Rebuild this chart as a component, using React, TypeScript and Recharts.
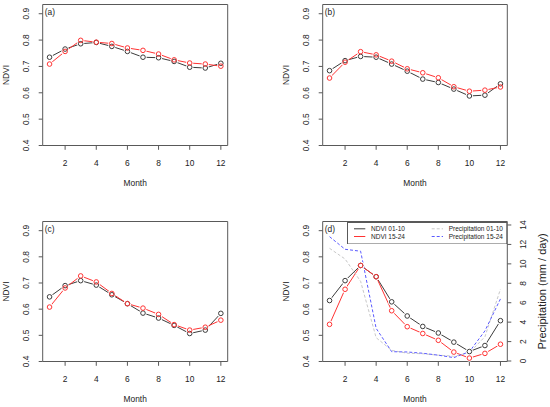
import { Label, Legend, Line, LineChart, XAxis, YAxis } from "recharts";

// monthly means
const MONTHS = [1, 2, 3, 4, 5, 6, 7, 8, 9, 10, 11, 12];

const NDVI_A_0110 = [0.735, 0.766, 0.786, 0.791, 0.776, 0.757, 0.735, 0.733, 0.719, 0.697, 0.694, 0.712];
const NDVI_A_1524 = [0.709, 0.757, 0.799, 0.792, 0.787, 0.77, 0.761, 0.747, 0.725, 0.713, 0.709, 0.701];
const NDVI_B_0110 = [0.684, 0.722, 0.738, 0.735, 0.709, 0.682, 0.652, 0.639, 0.614, 0.588, 0.591, 0.634];
const NDVI_B_1524 = [0.656, 0.716, 0.756, 0.744, 0.72, 0.691, 0.676, 0.657, 0.623, 0.606, 0.61, 0.622];
const NDVI_C_0110 = [0.647, 0.69, 0.709, 0.692, 0.655, 0.621, 0.585, 0.566, 0.538, 0.507, 0.52, 0.584];
const NDVI_C_1524 = [0.608, 0.681, 0.727, 0.704, 0.66, 0.621, 0.604, 0.58, 0.541, 0.52, 0.531, 0.558];
const NDVI_D_0110 = [0.633, 0.709, 0.767, 0.724, 0.628, 0.574, 0.534, 0.509, 0.474, 0.438, 0.461, 0.556];
const NDVI_D_1524 = [0.542, 0.676, 0.767, 0.724, 0.594, 0.533, 0.507, 0.481, 0.436, 0.413, 0.431, 0.466];

const PRECIP_0110 = [11.6, 10.5, 8.2, 2.4, 1.1, 0.8, 0.75, 0.6, 0.5, 0.85, 2.5, 7.4];
const PRECIP_1524 = [12.8, 11.5, 11.3, 3.36, 0.96, 0.93, 0.8, 0.6, 0.35, 0.96, 3.1, 6.4];

const MONTH_TICKS = [2, 4, 6, 8, 10, 12];
const NDVI_TICKS = [0.4, 0.5, 0.6, 0.7, 0.8, 0.9];
const PRECIP_TICKS = [0, 2, 4, 6, 8, 10, 12, 14];

const MONTH_DOMAIN: [number, number] = [0.56, 12.44];
const NDVI_DOMAIN: [number, number] = [0.4, 0.935];

const BLACK = "#3c3c3c";
const RED = "#ff3333";
const BLUE = "#5a5aff";
const GRAY = "#c8c8c8";
const AXIS = "#595959";
const TEXT = "#222";
const FS = 8.4;

const LEGEND = [
  { label: "NDVI 01-10", color: BLACK, dash: undefined },
  { label: "NDVI 15-24", color: RED, dash: undefined },
  { label: "Precipitation 01-10", color: GRAY, dash: "3 2" },
  { label: "Precipitation 15-24", color: BLUE, dash: "3 2" },
];

const rotatedTick = (fmt: (v: number) => string) => (props: any) => {
  const { x, y, payload } = props;
  return (
    <text
      x={x}
      y={y}
      transform={`rotate(-90 ${x} ${y})`}
      textAnchor="middle"
      dy="0.35em"
      fontSize={FS}
      fill={TEXT}
    >
      {fmt(payload.value)}
    </text>
  );
};

function LegendBox() {
  return (
    <svg width={160.3} height={22.5} style={{ display: "block" }}>
      <rect x={0.5} y={0.5} width={159.3} height={21.5} fill="#fff" stroke={AXIS} strokeWidth={1} />
      {LEGEND.map((item, i) => {
        const col = Math.floor(i / 2);
        const row = i % 2;
        const x0 = col === 0 ? 7 : 84.7;
        const y = row === 0 ? 6.8 : 14.5;
        return (
          <g key={item.label}>
            <line x1={x0} x2={x0 + 11.3} y1={y} y2={y} stroke={item.color} strokeWidth={1} strokeDasharray={item.dash} />
            <text x={x0 + 17} y={y} dy="0.35em" fontSize={6.5} fill={TEXT}>
              {item.label}
            </text>
          </g>
        );
      })}
    </svg>
  );
}

type PanelProps = {
  tag: string;
  col: 0 | 1;
  row: 0 | 1;
  early: number[];
  late: number[];
  precipEarly?: number[];
  precipLate?: number[];
};

function Panel({ tag, col, row, early, late, precipEarly, precipLate }: PanelProps) {
  const hasPrecip = !!precipEarly;
  const height = row === 0 ? 205 : 202;
  const plotTop = row === 0 ? 4.5 : 16.5;
  const plotBottom = row === 0 ? 145.5 : 156.5;
  const xAxisHeight = row === 0 ? 50 : 40;
  const yWidth = col === 0 ? 42.7 : 47.7;
  const rightSpace = col === 0 ? 47.3 : 42.7;
  // the circles sit on the top / right "box" axes, which share the data scales
  const dotY = hasPrecip ? 0 : "box";

  const data = MONTHS.map((m, i) => ({
    month: m,
    early: early[i],
    late: late[i],
    pEarly: precipEarly ? precipEarly[i] : undefined,
    pLate: precipLate ? precipLate[i] : undefined,
  }));

  return (
    <div style={{ position: "absolute", left: col * 275, top: row * 205 }}>
      <LineChart
        width={275}
        height={height}
        data={data}
        margin={{
          top: plotTop - 1,
          left: 0,
          right: hasPrecip ? 0 : rightSpace - 1,
          bottom: height - plotBottom - xAxisHeight,
        }}
      >
        <XAxis
          dataKey="month"
          type="number"
          domain={MONTH_DOMAIN}
          ticks={MONTH_TICKS}
          interval={0}
          height={xAxisHeight}
          axisLine={{ stroke: AXIS }}
          tickLine={{ stroke: AXIS }}
          tickSize={4.3}
          tickMargin={10}
          tick={{ fill: TEXT, fontSize: FS }}
        >
          <Label
            content={(p: any) => {
              const vb = p.viewBox;
              return (
                <text x={vb.x + vb.width / 2} y={vb.y + 40.5} textAnchor="middle" fontSize={FS} fill={TEXT}>
                  Month
                </text>
              );
            }}
          />
        </XAxis>
        <XAxis
          xAxisId="top"
          dataKey="month"
          orientation="top"
          type="number"
          domain={MONTH_DOMAIN}
          height={1}
          tick={false}
          tickLine={false}
          axisLine={{ stroke: AXIS }}
        >
          <Label
            content={(p: any) => {
              const vb = p.viewBox;
              return (
                <text x={vb.x + 2} y={vb.y + vb.height + 10.5} fontSize={FS} fill={TEXT}>
                  {tag}
                </text>
              );
            }}
          />
        </XAxis>
        <YAxis
          domain={NDVI_DOMAIN}
          ticks={NDVI_TICKS}
          interval={0}
          width={yWidth}
          axisLine={{ stroke: AXIS }}
          tickLine={{ stroke: AXIS }}
          tickSize={4}
          tickMargin={12.3}
          tick={rotatedTick((v) => v.toFixed(1))}
        >
          <Label
            content={(p: any) => {
              const vb = p.viewBox;
              const cx = vb.x + vb.width - 36.3;
              const cy = vb.y + vb.height / 2;
              return (
                <text x={cx} y={cy} transform={`rotate(-90 ${cx} ${cy})`} textAnchor="middle" dy="0.35em" fontSize={FS} fill={TEXT}>
                  NDVI
                </text>
              );
            }}
          />
        </YAxis>
        {hasPrecip ? (
          <YAxis
            yAxisId="p"
            orientation="right"
            domain={[-0.05, 14.36]}
            ticks={PRECIP_TICKS}
            interval={0}
            width={rightSpace}
            axisLine={{ stroke: AXIS }}
            tickLine={{ stroke: AXIS }}
            tickSize={4}
            tickMargin={11.5}
            tick={rotatedTick((v) => String(v))}
          >
            <Label
              content={(p: any) => {
                const vb = p.viewBox;
                const cx = vb.x + 34.4;
                const cy = vb.y + vb.height / 2;
                return (
                  <text x={cx} y={cy} transform={`rotate(-90 ${cx} ${cy})`} textAnchor="middle" dy="0.35em" fontSize={11} fill={TEXT}>
                    Precipitation (mm / day)
                  </text>
                );
              }}
            />
          </YAxis>
        ) : (
          <YAxis
            yAxisId="box"
            orientation="right"
            domain={NDVI_DOMAIN}
            width={1}
            tick={false}
            tickLine={false}
            axisLine={{ stroke: AXIS }}
          />
        )}

        {/* connecting lines, then white gaps round the points, then the open circles (R type = "b") */}
        <Line dataKey="early" stroke={BLACK} strokeWidth={1} dot={false} activeDot={false} isAnimationActive={false} />
        <Line dataKey="late" stroke={RED} strokeWidth={1} dot={false} activeDot={false} isAnimationActive={false} />
        <Line xAxisId="top" yAxisId={dotY} dataKey="early" stroke="none" dot={{ r: 3.6, fill: "#fff", stroke: "none" }} activeDot={false} isAnimationActive={false} />
        <Line xAxisId="top" yAxisId={dotY} dataKey="late" stroke="none" dot={{ r: 3.6, fill: "#fff", stroke: "none" }} activeDot={false} isAnimationActive={false} />
        <Line xAxisId="top" yAxisId={dotY} dataKey="early" stroke="none" dot={{ r: 2.3, fill: "none", stroke: BLACK, strokeWidth: 1 }} activeDot={false} isAnimationActive={false} />
        <Line xAxisId="top" yAxisId={dotY} dataKey="late" stroke="none" dot={{ r: 2.3, fill: "none", stroke: RED, strokeWidth: 1 }} activeDot={false} isAnimationActive={false} />

        {hasPrecip && (
          <Line yAxisId="p" dataKey="pEarly" stroke={GRAY} strokeWidth={1} strokeDasharray="3 2" dot={false} activeDot={false} isAnimationActive={false} />
        )}
        {hasPrecip && (
          <Line yAxisId="p" dataKey="pLate" stroke={BLUE} strokeWidth={1} strokeDasharray="3 2" dot={false} activeDot={false} isAnimationActive={false} />
        )}
        {hasPrecip && (
          <Legend
            layout="vertical"
            align="center"
            verticalAlign="middle"
            content={() => <LegendBox />}
            wrapperStyle={{ position: "absolute", left: 72, top: 16.5, width: 160.3, height: 22.5 }}
          />
        )}
      </LineChart>
    </div>
  );
}

export default function App() {
  return (
    <div
      style={{
        position: "absolute",
        left: 0,
        top: 0,
        width: 550,
        height: 407,
        background: "#fff",
        fontFamily: "'Liberation Sans', Arial, sans-serif",
      }}
    >
      <Panel tag="(a)" col={0} row={0} early={NDVI_A_0110} late={NDVI_A_1524} />
      <Panel tag="(b)" col={1} row={0} early={NDVI_B_0110} late={NDVI_B_1524} />
      <Panel tag="(c)" col={0} row={1} early={NDVI_C_0110} late={NDVI_C_1524} />
      <Panel
        tag="(d)"
        col={1}
        row={1}
        early={NDVI_D_0110}
        late={NDVI_D_1524}
        precipEarly={PRECIP_0110}
        precipLate={PRECIP_1524}
      />
    </div>
  );
}
